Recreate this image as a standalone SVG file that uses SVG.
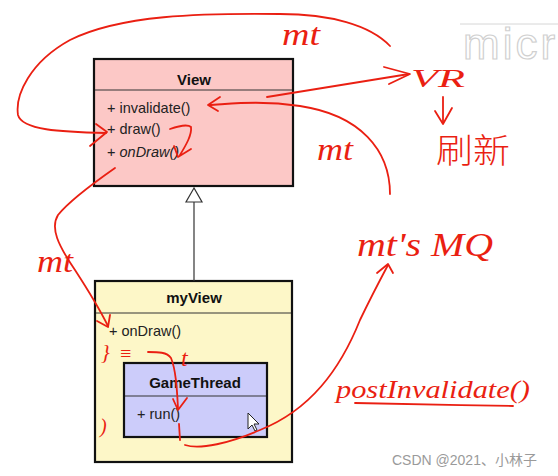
<svg xmlns="http://www.w3.org/2000/svg" width="558" height="476" viewBox="0 0 558 476">
<style>
.box{stroke:#111;stroke-width:2.2}
.sep{stroke:#333;stroke-width:1}
.title{font-family:"Liberation Sans",Arial,sans-serif;font-weight:bold;font-size:15px;fill:#111;text-anchor:middle}
.op{font-family:"Liberation Sans",Arial,sans-serif;font-size:14.5px;fill:#222}
.ink{fill:none;stroke:#ea1f12;stroke-width:1.8;stroke-linecap:round;stroke-linejoin:round}
.hand{font-family:"Liberation Serif","DejaVu Serif",serif;font-style:italic;fill:#ea1f12}
.cjk{font-family:"Noto Sans CJK SC",sans-serif;font-weight:300;fill:#ea1f12}
</style>
<rect width="558" height="476" fill="#ffffff"/>

<g id="watermark-micr">
<line x1="460" y1="24" x2="558" y2="24" stroke="#d6d6d6" stroke-width="1"/>
<text x="463" y="59" font-family="Liberation Sans,Arial,sans-serif" font-size="44" letter-spacing="3" fill="#ffffff" stroke="#d0d0d0" stroke-width="1.2">micr</text>
</g>

<g id="View">
<rect class="box" x="94" y="59" width="199" height="127" fill="#fcc8c6"/>
<line class="sep" x1="95" y1="90" x2="292" y2="90"/>
<text class="title" x="194" y="85">View</text>
<text class="op" x="107" y="113">+ invalidate()</text>
<text class="op" x="107" y="134">+ draw()</text>
<text class="op" x="107" y="157">+ <tspan font-style="italic">onDraw()</tspan></text>
</g>

<g id="myView">
<rect class="box" x="95" y="281" width="197" height="181" fill="#fdf7c8"/>
<line class="sep" x1="96" y1="313" x2="291" y2="313"/>
<text class="title" x="194" y="303">myView</text>
<text class="op" x="109" y="336">+ onDraw()</text>
</g>

<g id="GameThread">
<rect class="box" x="124" y="363" width="143" height="74" fill="#ccccfa"/>
<line class="sep" x1="125" y1="396" x2="266" y2="396"/>
<text class="title" x="195" y="388">GameThread</text>
<text class="op" x="137" y="419">+ run()</text>
<path d="M248,413 L248,429 L252,425 L255,431 L257,430 L254,424 L259,424 Z" fill="#fff" stroke="#222" stroke-width="1"/>
</g>

<g id="connectors">
<line x1="194" y1="202" x2="194" y2="281" stroke="#333" stroke-width="1.2"/>
<path d="M194,188 L186,202 L202,202 Z" fill="#fff" stroke="#333" stroke-width="1.2"/>
</g>

<g id="annotations">
<path class="ink" d="M390,46 C370,25 330,14 280,14 C200,13 120,15 70,40 C30,62 15,95 18,115 C22,130 60,132 106,133"/>
<path class="ink" d="M96,124 L107,132 L90,146"/>
<text class="hand" x="282" y="45" font-size="32" textLength="38" lengthAdjust="spacingAndGlyphs">mt</text>

<path class="ink" d="M267,97 L409,74"/>
<path class="ink" d="M384,67 L410,74 L389,84"/>
<text class="hand" x="411" y="87" font-size="26" textLength="54" lengthAdjust="spacingAndGlyphs">VR</text>

<path class="ink" d="M443,97 L443,123"/>
<path class="ink" d="M435,111 L443,124 L452,108"/>
<text class="cjk" x="436" y="163" font-size="34" textLength="74" lengthAdjust="spacingAndGlyphs">刷新</text>

<path class="ink" d="M390,194 C390,150 360,115 300,106 C260,100 230,104 209,105"/>
<path class="ink" d="M220,97 L208,105 L218,111"/>
<text class="hand" x="317" y="160" font-size="32" textLength="36" lengthAdjust="spacingAndGlyphs">mt</text>

<path class="ink" d="M170,129 C178,126 188,124 191,127 C192,135 186,145 180,155"/>
<path class="ink" d="M174,146 L178,157 L191,149"/>

<path class="ink" d="M115,168 C95,182 70,200 58,215 C50,228 58,245 75,270 C88,290 100,310 108,326"/>
<path class="ink" d="M97,321 L108,327 L110,315"/>
<text class="hand" x="37" y="272" font-size="32" textLength="36" lengthAdjust="spacingAndGlyphs">mt</text>

<text class="hand" x="101" y="359" font-size="22">}</text>
<text class="hand" x="119" y="360" font-size="20">≡</text>
<text class="hand" x="181" y="366" font-size="24">t</text>
<path class="ink" d="M148,352 C158,352 167,352 171,358 C176,370 177,390 178,408"/>
<path class="ink" d="M173,399 L178,410 L187,398"/>
<text class="hand" x="100" y="433" font-size="20">)</text>
<path class="ink" d="M179,424 L180,440"/>

<path class="ink" d="M185,445 C200,450 230,443 260,430 C310,410 340,370 360,320 C372,295 380,280 388,265"/>
<path class="ink" d="M377,273 L388,264 L393,273"/>

<text class="hand" x="357" y="256" font-size="34" textLength="136" lengthAdjust="spacingAndGlyphs">mt's MQ</text>

<text class="hand" x="336" y="398" font-size="26" textLength="194" lengthAdjust="spacingAndGlyphs">postInvalidate()</text>
<path class="ink" d="M355,403 C400,404 460,405 513,406"/>
</g>

<text x="392" y="465" font-family="Liberation Sans,Arial,'Noto Sans CJK SC',sans-serif" font-size="14" fill="#9a9a9a">CSDN @2021、小林子</text>
</svg>
